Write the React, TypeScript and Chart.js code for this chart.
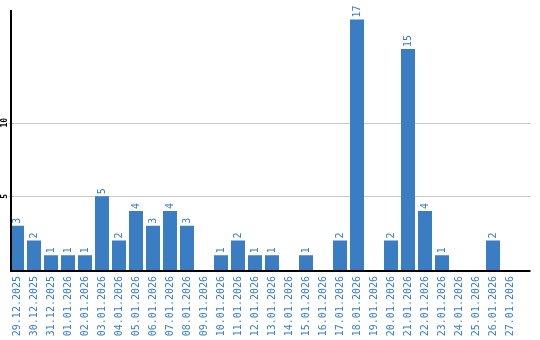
import React, { useEffect, useRef } from "react";
import { Chart, registerables } from "chart.js";

Chart.register(...registerables);

const categories = [
  "29.12.2025", "30.12.2025", "31.12.2025", "01.01.2026", "02.01.2026", "03.01.2026",
  "04.01.2026", "05.01.2026", "06.01.2026", "07.01.2026", "08.01.2026", "09.01.2026",
  "10.01.2026", "11.01.2026", "12.01.2026", "13.01.2026", "14.01.2026", "15.01.2026",
  "16.01.2026", "17.01.2026", "18.01.2026", "19.01.2026", "20.01.2026", "21.01.2026",
  "22.01.2026", "23.01.2026", "24.01.2026", "25.01.2026", "26.01.2026", "27.01.2026",
];
const counts = [3, 2, 1, 1, 1, 5, 2, 4, 3, 4, 3, 0, 1, 2, 1, 1, 0, 1, 0, 2, 17, 0, 2, 15, 4, 1, 0, 0, 2, 0];
const yTicks = [5, 10];
const yMax = 17.65;

const BLUE = "#3b7dc3";
const LABEL_BLUE = "#3a7dc4";
const MONO = "'DejaVu Sans Mono'";

const decorPlugin = {
  id: "decor",
  beforeDatasetsDraw(chart: any) {
    const { ctx, chartArea } = chart;
    const y = chart.scales.y;
    ctx.save();
    ctx.strokeStyle = "#c8c8c8";
    ctx.lineWidth = 1;
    yTicks.forEach((t) => {
      const py = Math.round(y.getPixelForValue(t)) + 0.5;
      ctx.beginPath();
      ctx.moveTo(chartArea.left, py);
      ctx.lineTo(chartArea.right + 12, py);
      ctx.stroke();
    });
    ctx.restore();
  },
  afterDatasetsDraw(chart: any) {
    const { ctx, chartArea } = chart;
    const x = chart.scales.x;
    const y = chart.scales.y;
    ctx.save();
    // axes
    ctx.strokeStyle = "#000";
    ctx.lineWidth = 2;
    ctx.beginPath();
    ctx.moveTo(11, chartArea.top);
    ctx.lineTo(11, chartArea.bottom + 1);
    ctx.stroke();
    ctx.beginPath();
    ctx.moveTo(10, chartArea.bottom + 1);
    ctx.lineTo(chartArea.right + 12, chartArea.bottom + 1);
    ctx.stroke();

    // y tick labels (rotated)
    ctx.fillStyle = "#000";
    ctx.font = `bold 8px ${MONO}`;
    ctx.textAlign = "center";
    ctx.textBaseline = "middle";
    yTicks.forEach((t) => {
      const py = y.getPixelForValue(t);
      ctx.save();
      ctx.translate(5, py);
      ctx.rotate(-Math.PI / 2);
      ctx.fillText(String(t), 0, 0);
      ctx.restore();
    });

    // x labels
    ctx.fillStyle = LABEL_BLUE;
    ctx.font = `10px ${MONO}`;
    ctx.textAlign = "right";
    ctx.textBaseline = "middle";
    categories.forEach((c, i) => {
      const px = x.getPixelForValue(i);
      ctx.save();
      ctx.translate(px, chartArea.bottom + 6);
      ctx.rotate(-Math.PI / 2);
      ctx.fillText(c, 0, 0);
      ctx.restore();
    });

    // value labels
    const meta = chart.getDatasetMeta(0);
    ctx.textAlign = "left";
    meta.data.forEach((bar: any, i: number) => {
      const v = counts[i];
      if (!v) return;
      ctx.save();
      ctx.translate(bar.x, bar.y - 2);
      ctx.rotate(-Math.PI / 2);
      ctx.fillText(String(v), 0, 0);
      ctx.restore();
    });
    ctx.restore();
  },
};

export default function App() {
  const ref = useRef<HTMLCanvasElement>(null);
  useEffect(() => {
    if (!ref.current) return;
    const chart = new Chart(ref.current, {
      type: "bar",
      data: {
        labels: categories,
        datasets: [
          {
            data: counts,
            backgroundColor: BLUE,
            borderWidth: 0,
            barPercentage: 14 / 17,
            categoryPercentage: 1,
          },
        ],
      },
      options: {
        responsive: false,
        animation: false,
        layout: { padding: { left: 8.5, top: 10, right: 21.5, bottom: 70 } },
        plugins: { legend: { display: false }, tooltip: { enabled: false } },
        scales: {
          x: { display: false },
          y: { display: false, min: 0, max: yMax },
        },
      },
      plugins: [decorPlugin],
    });
    return () => chart.destroy();
  }, []);
  return (
    <div style={{ position: "fixed", left: 0, top: 0, width: 540, height: 340, background: "#fff" }}>
      <canvas ref={ref} width={540} height={340} />
    </div>
  );
}
